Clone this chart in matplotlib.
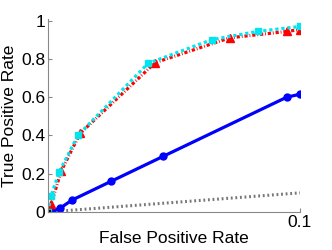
import matplotlib
matplotlib.use("Agg")
import matplotlib.pyplot as plt

plt.rcParams['font.family'] = ['Liberation Sans', 'DejaVu Sans']

# Blue solid curve (circles)
blue_x = [0.0, 0.0016, 0.0048, 0.0095, 0.025, 0.0456, 0.0948, 0.1]
blue_y = [0.0, 0.005, 0.02, 0.062, 0.16, 0.29, 0.60, 0.615]

# Red dash-dot curve (triangles)
red_x = [0.0, 0.0012, 0.0052, 0.0127, 0.0425, 0.0722, 0.0948, 0.1]
red_y = [0.0, 0.04, 0.213, 0.41, 0.78, 0.91, 0.943, 0.953]

# Cyan dotted curve (squares)
cyan_x = [0.0, 0.0012, 0.0044, 0.0119, 0.0397, 0.065, 0.0833, 0.1]
cyan_y = [0.0, 0.083, 0.208, 0.40, 0.776, 0.90, 0.943, 0.969]

# Chance diagonal
diag_x = [0.0, 0.1]
diag_y = [0.0, 0.1]

xticks = [0.0, 0.1]
xticklabels = ['', '0.1']
yticks = [0, 0.2, 0.4, 0.6, 0.8, 1.0]
yticklabels = ['0', '0.2', '0.4', '0.6', '0.8', '1']

fig = plt.figure(figsize=(3.32, 2.5), dpi=100)
ax = fig.add_axes([48/332, 1-212/250, 252/332, 193/250])

ax.plot(diag_x, diag_y, color='#777777', linestyle=(0, (0.6, 0.9)), linewidth=2.2)
ax.plot(blue_x, blue_y, color='#0000ff', linestyle='-', linewidth=2.3,
        marker='o', markersize=5)
ax.plot(red_x, red_y, color='#ff0000', linestyle=(0, (1.0, 0.6, 0.25, 0.6)),
        linewidth=2.3, marker='^', markersize=6)
ax.plot(cyan_x, cyan_y, color='#00e5ee', linestyle=(0, (1.0, 0.9)),
        linewidth=2.3, marker='s', markersize=5)
ax.plot([0], [0], color='black', marker='s', markersize=3, linestyle='none')

ax.set_xlim(0, 0.1)
ax.set_ylim(0, 1.008)
ax.set_xticks(xticks)
ax.set_xticklabels(xticklabels)
ax.set_yticks(yticks)
ax.set_yticklabels(yticklabels)
ax.tick_params(direction='in', length=3, color='#888888', labelsize=12.5, pad=2)
for s in ['top', 'right']:
    ax.spines[s].set_visible(False)
for s in ['left', 'bottom']:
    ax.spines[s].set_color('#888888')
ax.set_xlabel('False Positive Rate', fontsize=12.5, labelpad=1)
ax.set_ylabel('True Positive Rate', fontsize=12.5, labelpad=3)

fig.savefig('out.png', dpi=100)
